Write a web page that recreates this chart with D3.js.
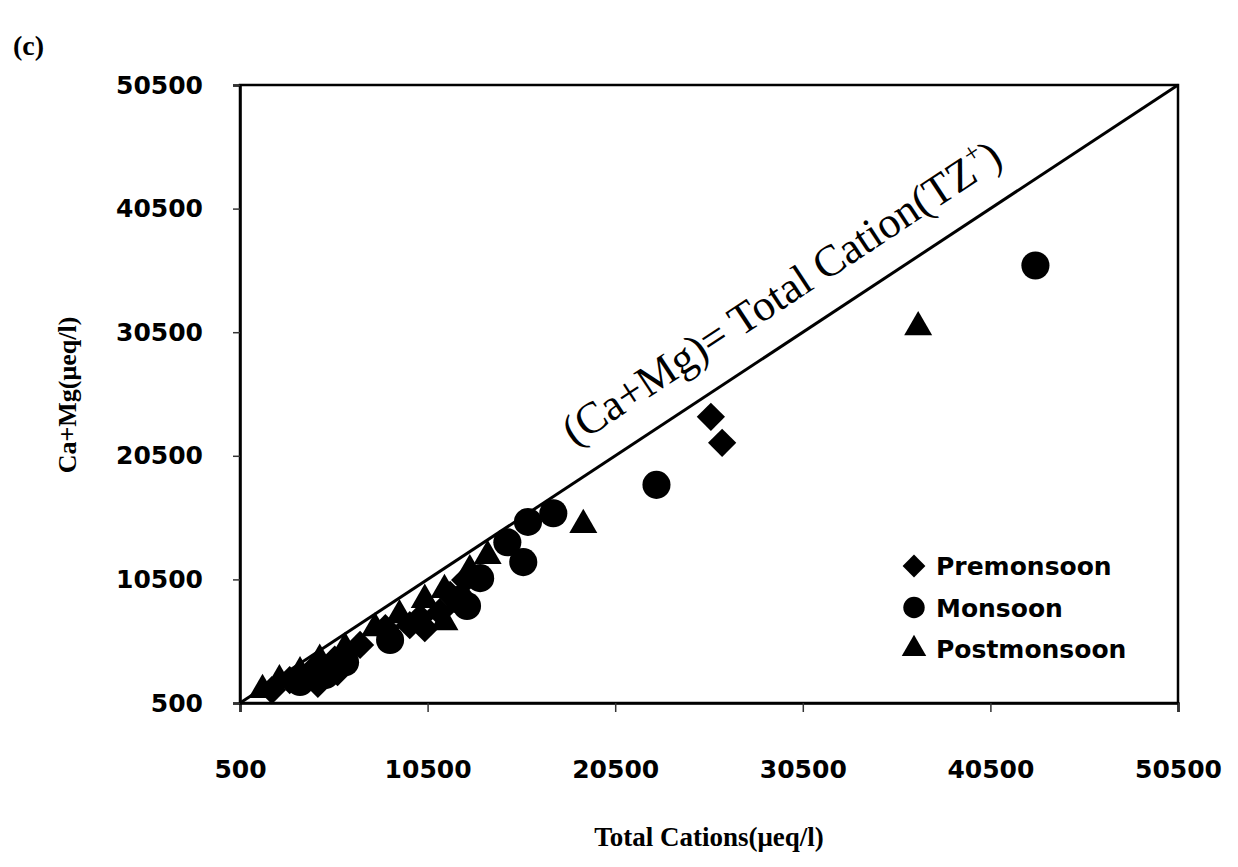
<!DOCTYPE html>
<html><head><meta charset="utf-8">
<script src="https://cdn.jsdelivr.net/npm/d3@7"></script>
<style>body{margin:0;background:#fff}</style>
</head><body>
<svg id="c" width="1238" height="867"></svg>
<script>
const ticks = [500, 10500, 20500, 30500, 40500, 50500];
const seriesNames = ["Premonsoon", "Monsoon", "Postmonsoon"];
const preX = [2200,3150,4350,4650,5550,5700,6900,8250,9550,10100,10350,11150,11700,12500,25600,26200];
const preY = [1550,2350,3150,2050,4000,3000,5200,6550,6800,7400,6550,7850,9250,10450,23650,21550];
const monX = [3700,5050,6100,8500,12200,12600,13300,14750,15600,15850,17200,22700,42900];
const monY = [2200,2750,3800,5600,8850,8350,10600,13500,11900,15150,15850,18150,35900];
const postX = [1700,2600,3700,4750,6100,7700,9000,10350,11400,11400,12750,13700,18800,36650];
const postY = [1550,2350,3000,4000,4950,6550,7600,8850,9650,7050,11250,12400,14900,30900];

const svg = d3.select("#c");
const L=240,R=1178,T=85,B=703;
const x = d3.scaleLinear().domain([500,50500]).range([L,R]);
const y = d3.scaleLinear().domain([500,50500]).range([B,T]);
const tickFont = "'DejaVu Sans', Verdana, sans-serif";

svg.append("rect").attr("x",L).attr("y",T).attr("width",R-L).attr("height",B-T)
  .attr("fill","none").attr("stroke","#000").attr("stroke-width",2.5);

const xa = svg.append("g").attr("transform",`translate(0,${B})`)
  .call(d3.axisBottom(x).tickValues(ticks).tickSize(9).tickFormat(d3.format("d")).tickPadding(48));
const ya = svg.append("g").attr("transform",`translate(${L},0)`)
  .call(d3.axisLeft(y).tickValues(ticks).tickSize(7).tickFormat(d3.format("d")).tickPadding(30));
[xa,ya].forEach(g=>{
  g.select(".domain").attr("stroke","#000").attr("stroke-width",2.5);
  g.selectAll(".tick line").attr("stroke","#333").attr("stroke-width",1.5);
  g.selectAll(".tick text").attr("font-family",tickFont)
   .attr("font-weight","bold").attr("font-size","25px").attr("fill","#000");
});

// 1:1 line
svg.append("line").attr("x1",x(500)).attr("y1",y(500)).attr("x2",x(50500)).attr("y2",y(50500))
  .attr("stroke","#000").attr("stroke-width",3);

const ang = Math.atan2(y(50500)-y(500), x(50500)-x(500))*180/Math.PI;
const ax = x(19200), ay = y(19200);
const offs = 30;
const rad = ang*Math.PI/180;
const tx = ax + offs*Math.sin(rad), ty = ay - offs*Math.cos(rad);
const t = svg.append("text").attr("transform",`translate(${tx},${ty}) rotate(${ang})`)
  .attr("font-family","'Liberation Serif', 'Times New Roman', serif").attr("font-size","44px").attr("fill","#000");
t.append("tspan").text("(Ca+Mg)= Total Cation(TZ");
t.append("tspan").text("+").attr("font-size","27px").attr("dy","-18");
t.append("tspan").text(")").attr("dy","18");

const sym = [d3.symbolSquare, d3.symbolCircle, d3.symbolTriangle];
const rot = [45, 0, 0];
const sizes = [400, 620, 340];
const sets = [[preX,preY],[monX,monY],[postX,postY]];
sets.forEach(([xs,ys],i)=>{
  svg.append("g").selectAll("path").data(xs.map((v,j)=>[v,ys[j]])).join("path")
    .attr("transform",d=>`translate(${x(d[0])},${y(d[1])}) rotate(${rot[i]})`)
    .attr("d",d3.symbol().type(sym[i]).size(sizes[i])).attr("fill","#000");
});

// legend
const lg = svg.append("g").attr("transform","translate(914,566)");
seriesNames.forEach((n,i)=>{
  const g = lg.append("g").attr("transform",`translate(0,${i*41.5})`);
  g.append("path").attr("d",d3.symbol().type(sym[i]).size([260,360,260][i]))
   .attr("transform",`rotate(${rot[i]})`).attr("fill","#000");
  g.append("text").attr("x",22).attr("y",9).text(n).attr("font-family",tickFont)
   .attr("font-weight","bold").attr("font-size","25px").attr("fill","#000");
});

// axis titles
svg.append("text").attr("x",709).attr("y",846).attr("text-anchor","middle")
  .attr("font-family","'Liberation Serif', serif").attr("font-weight","bold").attr("font-size","27px")
  .text("Total Cations(μeq/l)");
svg.append("text").attr("transform","translate(76,395) rotate(-90)").attr("text-anchor","middle")
  .attr("font-family","'Liberation Serif', serif").attr("font-weight","bold").attr("font-size","26px")
  .text("Ca+Mg(μeq/l)");
svg.append("text").attr("x",13).attr("y",55)
  .attr("font-family","'Liberation Serif', serif").attr("font-weight","bold").attr("font-size","28px")
  .text("(c)");
</script>
</body></html>
